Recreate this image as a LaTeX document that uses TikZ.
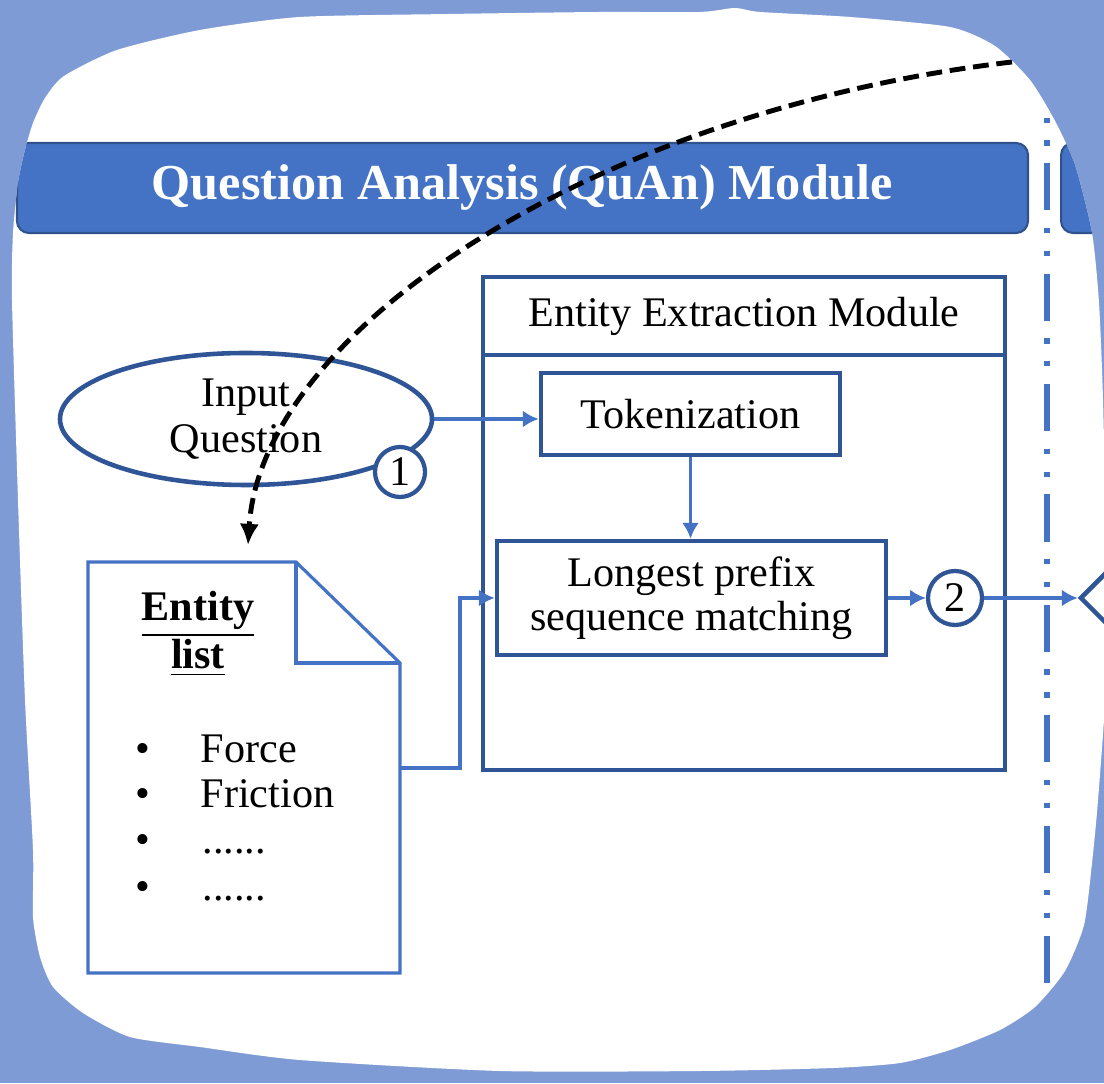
\documentclass[tikz,border=0pt]{standalone}
\usepackage{fontspec}
\setmainfont{Liberation Serif}
\usetikzlibrary{arrows.meta,shapes.geometric}

\definecolor{bgblue}{HTML}{7F9BD6}
\definecolor{barblue}{HTML}{4472C4}
\definecolor{barline}{HTML}{2F528F}
\definecolor{boxline}{HTML}{2F5597}
\definecolor{lineblue}{HTML}{4472C4}

\tikzset{
	header/.style={draw=barline, line width=0.6pt, fill=barblue, rounded corners=0.12cm, inner sep=0pt},
	procbox/.style={draw=boxline, line width=1.3pt, fill=white, inner sep=0pt, align=center, font=\fontsize{12}{12.5}\selectfont},
	stepnum/.style={circle, draw=boxline, line width=1.2pt, fill=white, inner sep=0pt, font=\fontsize{12}{12}\selectfont},
	flow/.style={draw=lineblue, line width=0.9pt, -{Latex[length=4.5pt,width=4.8pt]}},
	docline/.style={draw=lineblue, line width=0.9pt},
	listitem/.style={anchor=base west, inner sep=0pt, font=\fontsize{12}{12}\selectfont},
	bulletmark/.style={anchor=base, inner sep=0pt, font=\fontsize{12}{12}\selectfont},
	recall/.style={black, line width=1.4pt, dash pattern=on 4.5pt off 2.2pt, -{Latex[length=6pt,width=5.5pt]}},
	divider/.style={draw=lineblue, line width=1.5pt, dash pattern=on 13.4pt off 5pt on 1.5pt off 5pt on 1.5pt off 5pt}
}

\begin{document}
\begin{tikzpicture}
			%%%%% START %%%%%
			
			\useasboundingbox (0, 0) rectangle (11.04, 10.83);
			\fill[bgblue] (0, 0) rectangle (11.04, 10.83);
			
			\begin{scope}
			\clip plot[smooth cycle, tension=0.4] coordinates {
				(0.12, 7.83) (0.13, 8.50) (0.18, 9.00) (0.25, 9.33) (0.33, 9.60) (0.45, 9.85)
				(0.64, 10.07) (1.17, 10.33) (2.00, 10.53) (3.00, 10.66) (4.50, 10.69)
				(6.00, 10.71) (7.00, 10.71) (7.35, 10.75) (7.60, 10.71) (8.50, 10.66) (9.50, 10.56)
				(9.95, 10.37) (10.30, 10.03) (10.55, 9.62) (10.75, 9.18)
				(10.92, 8.50) (10.99, 7.80) (11.03, 6.83) (11.06, 5.33) (11.06, 4.00) (10.98, 2.83)
				(10.92, 2.20) (10.84, 1.58) (10.65, 1.12) (10.35, 0.76) (10.00, 0.53)
				(9.50, 0.33) (9.00, 0.20) (8.33, 0.15) (7.00, 0.12) (5.00, 0.12)
				(3.00, 0.23) (2.00, 0.36) (1.30, 0.46) (0.83, 0.70) (0.53, 0.96) (0.40, 1.26)
				(0.33, 1.66) (0.33, 2.33) (0.25, 3.83) (0.18, 5.83)};
			\fill[white] (0, 0) rectangle (11.04, 10.83);
			
			% module headers
			\node[header, minimum width=10.11cm, minimum height=0.90cm, text=white, font=\bfseries\fontsize{14.3}{16}\selectfont] (quan) at (5.225, 8.95) {Question Analysis (QuAn) Module};
			\node[header, minimum width=1.2cm, minimum height=0.90cm, anchor=west] (nextmod) at (10.60, 8.95) {};
			
			\draw[divider] (10.47, 10.30) -- (10.47, 0.30);
			
			% entity extraction module
			\node[procbox, minimum width=5.22cm, minimum height=4.93cm] (eem) at (7.44, 5.595) {};
			\node[procbox, minimum width=5.22cm, minimum height=0.78cm] (eemtitle) at (7.44, 7.67) {Entity Extraction Module};
			\node[procbox, minimum width=2.99cm, minimum height=0.82cm] (tok) at (6.905, 6.69) {Tokenization};
			\node[procbox, minimum width=3.89cm, minimum height=1.14cm] (lps) at (6.915, 4.85) {Longest prefix\\sequence matching};
			
			% input question
			\node[ellipse, draw=boxline, line width=1.3pt, minimum width=3.72cm, minimum height=1.32cm, inner sep=0pt, align=center, font=\fontsize{12}{13}\selectfont] (inq) at (2.46, 6.64) {Input\\Question};
			\node[stepnum, minimum size=0.50cm] (c1) at (4.00, 6.11) {1};
			
			% entity list document
			\draw[docline] (0.88, 5.21) -- (2.96, 5.21) -- (4.00, 4.20) -- (4.00, 1.10) -- (0.88, 1.10) -- cycle;
			\draw[docline] (2.96, 5.21) -- (2.96, 4.20) -- (4.00, 4.20);
			\coordinate (docout) at (4.00, 3.15);
			\coordinate (elist) at (2.48, 5.38);
			
			\node[align=center, inner sep=0pt, font=\bfseries\fontsize{12}{13.7}\selectfont] (elisttitle) at (1.98, 4.49) {\underline{Entity}\\\underline{list}};
			
			\node[bulletmark] (bul1) at (1.43, 3.21) {\textbullet};
			\node[listitem] (item1) at (2.00, 3.21) {Force};
			\node[bulletmark] (bul2) at (1.43, 2.76) {\textbullet};
			\node[listitem] (item2) at (2.00, 2.76) {Friction};
			\node[bulletmark] (bul3) at (1.43, 2.30) {\textbullet};
			\node[listitem] (item3) at (2.02, 2.30) {......};
			\node[bulletmark] (bul4) at (1.43, 1.83) {\textbullet};
			\node[listitem] (item4) at (2.02, 1.83) {......};
			
			% next step
			\node[stepnum, minimum size=0.54cm] (c2) at (9.55, 4.85) {2};
			\node[diamond, draw=boxline, line width=1.3pt, minimum width=1.0cm, minimum height=1.0cm, inner sep=0pt] (nextstep) at (11.30, 4.85) {};
			
			% connectors
			\draw[flow] (inq.east) -- (inq.east -| tok.west);
			\draw[flow] (tok.south) -- (tok.south |- lps.north);
			\draw[flow] (docout) -- ++(0.60, 0) |- (lps.west);
			\draw[flow] (lps.east) -- (c2.west);
			\draw[flow] (c2.east) -- (nextstep.west);
			
			\coordinate (farend) at (10.12, 10.21);
			\draw[recall] (farend) .. controls (6.00, 9.73) and (2.62, 7.55) .. (elist);
			\end{scope}
			
			%%%%% END %%%%%
\end{tikzpicture}
\end{document}
